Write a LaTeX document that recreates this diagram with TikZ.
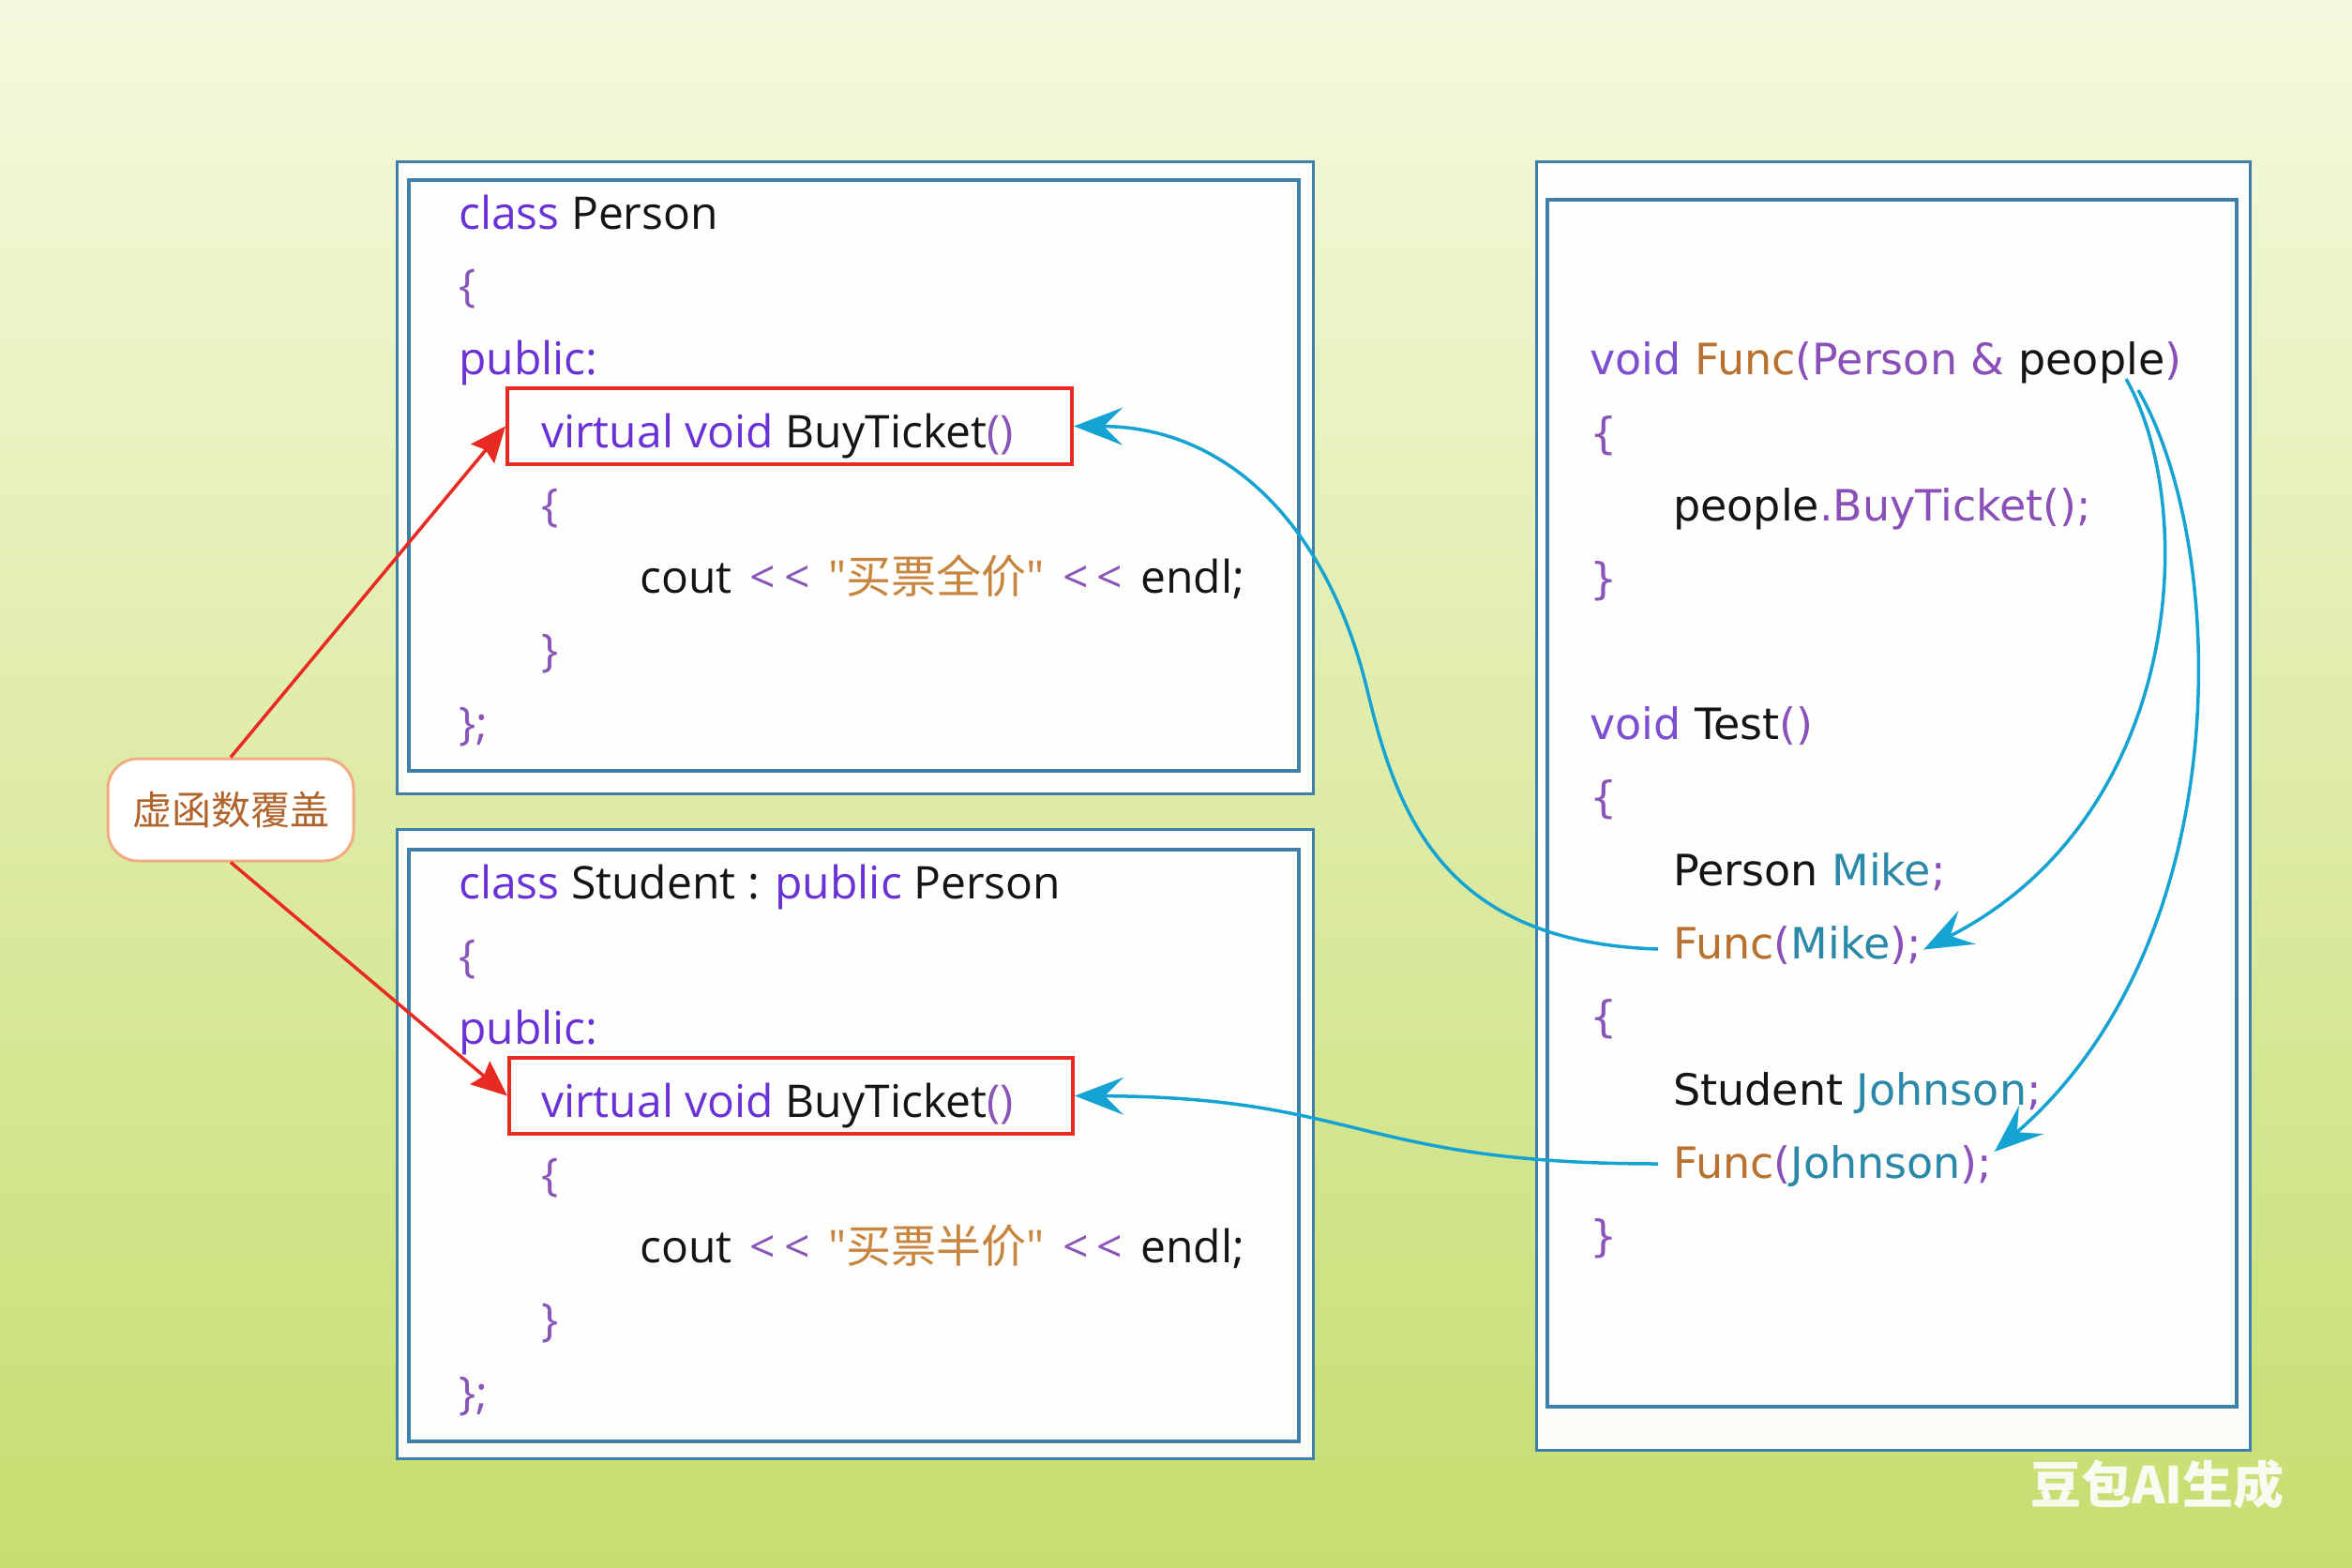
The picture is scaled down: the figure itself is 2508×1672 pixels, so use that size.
\documentclass[tikz,border=0pt]{standalone}
\usepackage{fontspec}
\usetikzlibrary{arrows.meta}
\newfontfamily\codefont{Open Sans}
\newfontfamily\codefontR{DejaVu Sans}
\newfontfamily\cjk{Noto Sans CJK SC}
\definecolor{kw}{HTML}{6A32D6}
\definecolor{kwr}{HTML}{7B4FD0}
\definecolor{pun}{HTML}{8A55B8}
\definecolor{pr}{HTML}{8A4FB8}
\definecolor{strc}{HTML}{C8853F}
\definecolor{fn}{HTML}{B8712F}
\definecolor{varc}{HTML}{2A88A8}
\definecolor{txt}{HTML}{141414}
\definecolor{frame}{HTML}{3E80AA}
\definecolor{cy}{HTML}{14A3D2}
\definecolor{rd}{HTML}{E82A22}
\definecolor{bgA}{HTML}{F6F9DE}
\definecolor{bgB}{HTML}{DFED9A}
\definecolor{bgC}{HTML}{C6DE70}
\definecolor{tagline}{HTML}{F0AC80}
\definecolor{tagtext}{HTML}{B0642C}
\newcommand\gap{\ \kern7pt}
\tikzset{
  outerbox/.style={draw=frame, line width=3pt, fill=white, fill opacity=.95, inner sep=0pt},
  innerbox/.style={draw=frame, line width=3.5pt, fill=white, fill opacity=.6, inner sep=0pt},
  redbox/.style={draw=rd, line width=4pt, inner sep=0pt},
  code/.style={anchor=base west, inner sep=0pt, text=txt, font=\codefont\fontsize{48}{58}\selectfont},
  coder/.style={anchor=base west, inner sep=0pt, text=txt, font=\codefontR\fontsize{46}{56}\selectfont},
  tagbox/.style={draw=tagline, line width=3pt, fill=white, rounded corners=32pt, text=tagtext, font=\cjk\fontsize{42}{50}\selectfont, minimum width=262pt, minimum height=109pt, inner sep=0pt},
  redarrow/.style={draw=rd, line width=3.5pt, -{Stealth[length=38pt,width=32pt,inset=5pt]}},
  bluearrow/.style={draw=cy, line width=3.5pt, -{Stealth[length=52pt,width=40pt,inset=20pt]}},
}
\begin{document}
\begin{tikzpicture}[x=1pt, y=-1pt]
\useasboundingbox (0,0) rectangle (2508,1672);
\shade[top color=bgA, middle color=bgB, bottom color=bgC] (0,0) rectangle (2508,1672);

% boxes
\node[outerbox, minimum width=977pt, minimum height=673pt] (b1o) at (911.5,509.5) {};
\node[innerbox, minimum width=949pt, minimum height=630pt] (b1i) at (910.5,507) {};
\node[outerbox, minimum width=977pt, minimum height=671pt] (b2o) at (911.5,1219.5) {};
\node[innerbox, minimum width=949pt, minimum height=631pt] (b2i) at (910.5,1221.5) {};
\node[outerbox, minimum width=761pt, minimum height=1373pt] (b3o) at (2018.5,859.5) {};
\node[innerbox, minimum width=735pt, minimum height=1287pt] (b3i) at (2017.5,856.5) {};

% red boxes
\node[redbox, minimum width=602pt, minimum height=81pt] (rb1) at (842,454.5) {};
\node[redbox, minimum width=601pt, minimum height=81pt] (rb2) at (843.5,1168.5) {};

% class Person
\node[code] (p1) at (489,244) {\textcolor{kw}{class} Person};
\node[code] (p2) at (489,321.5) {\textcolor{pun}{\{}};
\node[code] (p3) at (489,399) {\textcolor{kw}{public:}};
\node[code] (p4) at (577,477) {\textcolor{kw}{virtual void} BuyTicket\textcolor{pun}{()}};
\node[code] (p5) at (577,555) {\textcolor{pun}{\{}};
\node[code] (p6) at (682,632) {cout\gap\textcolor{pun}{<\kern9pt<}\gap\textcolor{strc}{"{\cjk 买票全价}"}\gap\textcolor{pun}{<\kern9pt<}\gap endl;};
\node[code] (p7) at (577,710) {\textcolor{pun}{\}}};
\node[code] (p8) at (489,788) {\textcolor{pun}{\};}};

% class Student
\node[code] (s1) at (489,958) {\textcolor{kw}{class} Student : \textcolor{kw}{public} Person};
\node[code] (s2) at (489,1036) {\textcolor{pun}{\{}};
\node[code] (s3) at (489,1113) {\textcolor{kw}{public:}};
\node[code] (s4) at (577,1191) {\textcolor{kw}{virtual void} BuyTicket\textcolor{pun}{()}};
\node[code] (s5) at (577,1269) {\textcolor{pun}{\{}};
\node[code] (s6) at (682,1346) {cout\gap\textcolor{pun}{<\kern9pt<}\gap\textcolor{strc}{"{\cjk 买票半价}"}\gap\textcolor{pun}{<\kern9pt<}\gap endl;};
\node[code] (s7) at (577,1424) {\textcolor{pun}{\}}};
\node[code] (s8) at (489,1502) {\textcolor{pun}{\};}};

% right panel
\node[coder] (r1) at (1695,399) {\textcolor{kwr}{void} \textcolor{fn}{Func}\textcolor{pr}{(Person \&} people\textcolor{pr}{)}};
\node[coder] (r2) at (1695,478) {\textcolor{pun}{\{}};
\node[coder] (r3) at (1784,555) {people\textcolor{pr}{.BuyTicket();}};
\node[coder] (r4) at (1695,633) {\textcolor{pun}{\}}};
\node[coder] (r5) at (1695,788) {\textcolor{kwr}{void} Test\textcolor{pr}{()}};
\node[coder] (r6) at (1695,866) {\textcolor{pun}{\{}};
\node[coder] (r7) at (1784,944) {Person \textcolor{varc}{Mike}\textcolor{pr}{;}};
\node[coder] (fm) at (1784,1022) {\textcolor{fn}{Func}\textcolor{pr}{(}\textcolor{varc}{Mike}\textcolor{pr}{);}};
\node[coder] (r9) at (1695,1100) {\textcolor{pun}{\{}};
\node[coder] (r10) at (1784,1178) {Student \textcolor{varc}{Johnson}\textcolor{pr}{;}};
\node[coder] (fj) at (1784,1256) {\textcolor{fn}{Func}\textcolor{pr}{(}\textcolor{varc}{Johnson}\textcolor{pr}{);}};
\node[coder] (r12) at (1695,1334) {\textcolor{pun}{\}}};

% tag
\node[tagbox] (lbl) at (246,863.5) {虚函数覆盖};

% red arrows
\draw[redarrow] (lbl.north) -- (rb1.west);
\draw[redarrow] (lbl.south) -- (rb2.west);

% blue arrows
\draw[bluearrow] ([shift={(-16pt,10pt)}]fm.base west) .. controls (1540,1005) and (1490,870) .. (1458,736) .. controls (1416,562) and (1310,455) .. (rb1.east);
\draw[bluearrow] ([shift={(-16pt,15pt)}]fj.base west) .. controls (1450,1241) and (1450,1170) .. (rb2.east);
\coordinate (pA) at (2267,404);
\coordinate (pB) at (2280,416);
\draw[bluearrow] (pA) .. controls (2345,540) and (2330,870) .. ([shift={(2pt,-5pt)}]fm.east);
\draw[bluearrow] (pB) .. controls (2375,580) and (2390,1000) .. ([shift={(2pt,15pt)}]fj.east);

% watermark
\node[anchor=base west, inner sep=0pt, text=white, text opacity=.9, font=\cjk\bfseries\fontsize{54}{60}\selectfont] (wm) at (2165,1603) {豆包AI生成};
\end{tikzpicture}
\end{document}
